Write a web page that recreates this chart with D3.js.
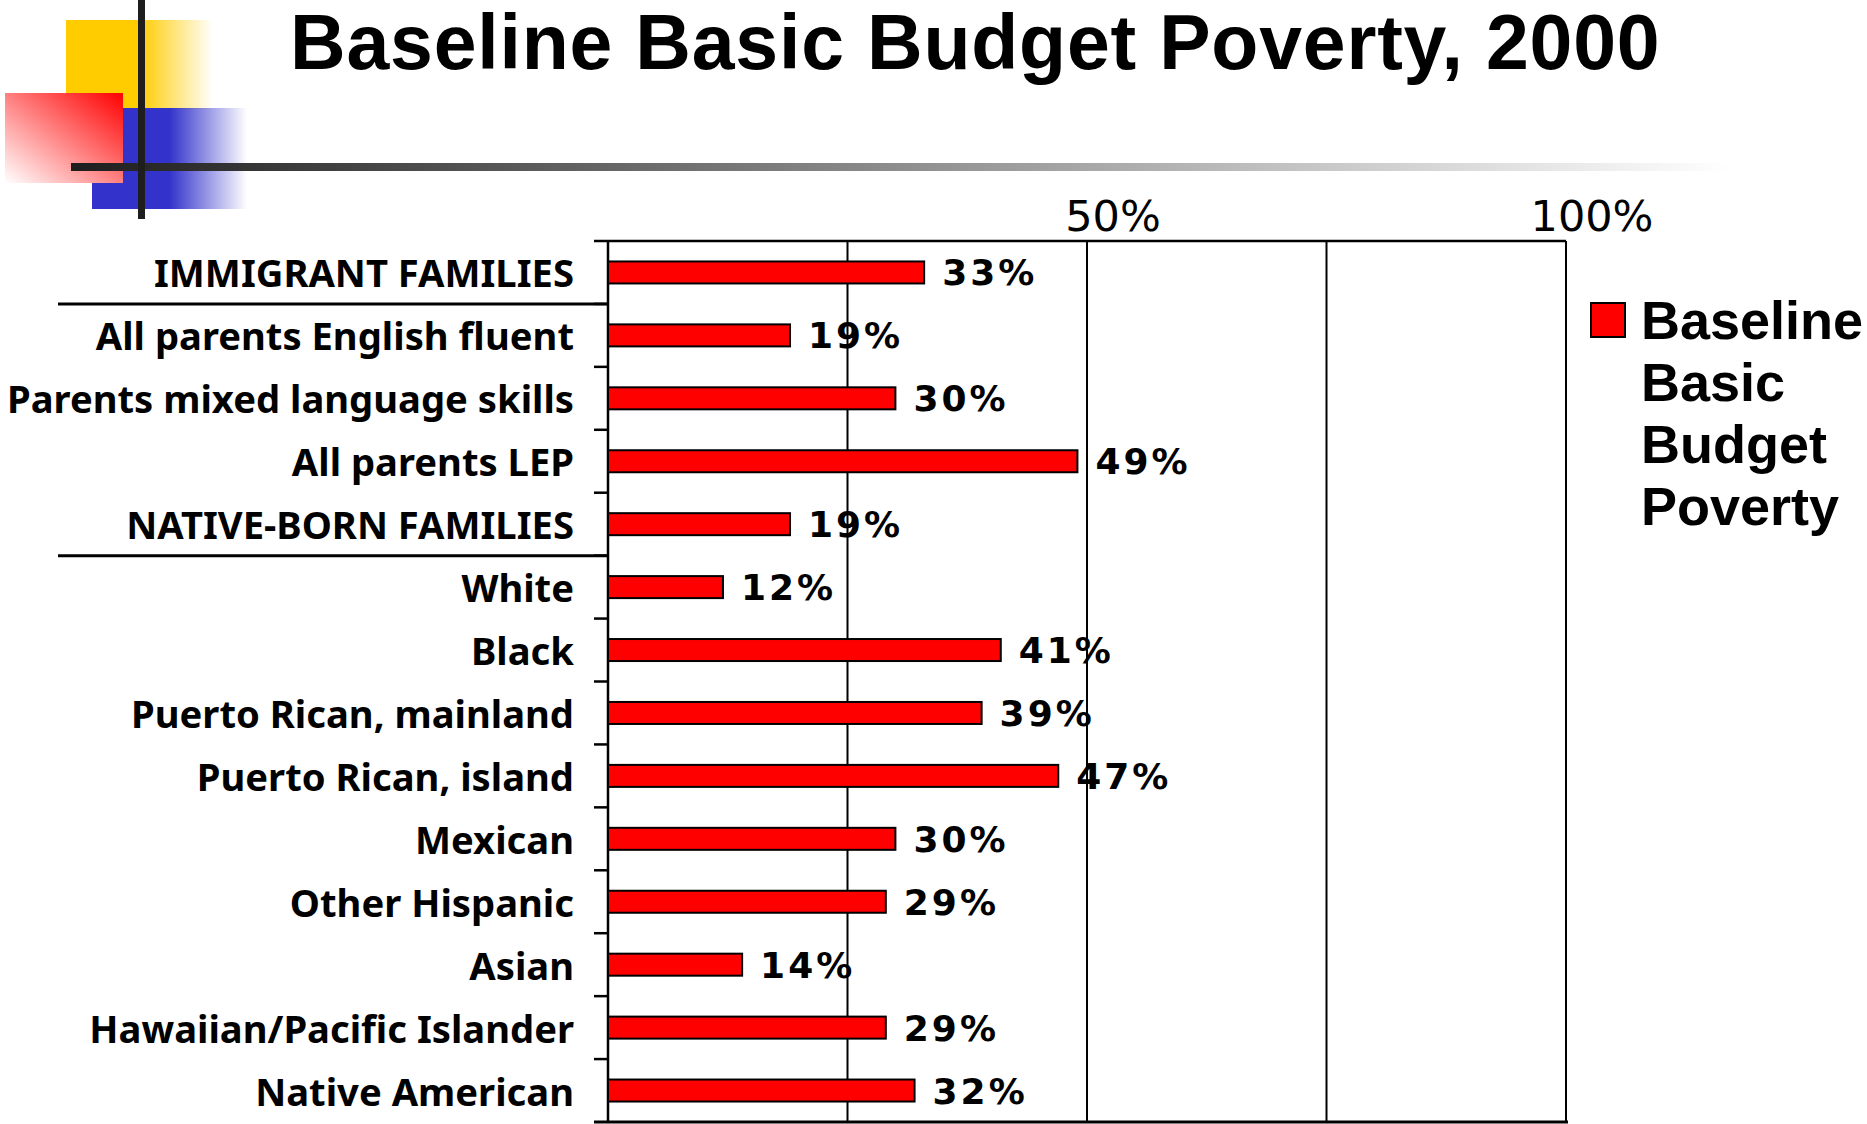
<!DOCTYPE html>
<html>
<head>
<meta charset="utf-8">
<script src="https://cdn.jsdelivr.net/npm/d3@7"></script>
<style>
  html, body { margin: 0; padding: 0; background: #fff; }
  svg { display: block; }
</style>
</head>
<body>
<svg id="chart" width="1867" height="1124"></svg>
<script>
// Basic budget poverty rates, 2000, by family group
const categories = [
  "IMMIGRANT FAMILIES",
  "All parents English fluent",
  "Parents mixed language skills",
  "All parents LEP",
  "NATIVE-BORN FAMILIES",
  "White",
  "Black",
  "Puerto Rican, mainland",
  "Puerto Rican, island",
  "Mexican",
  "Other Hispanic",
  "Asian",
  "Hawaiian/Pacific Islander",
  "Native American"
];
const values = [33, 19, 30, 49, 19, 12, 41, 39, 47, 30, 29, 14, 29, 32];
const groupHeaders = ["IMMIGRANT FAMILIES", "NATIVE-BORN FAMILIES"];
const gridValues = [25, 50, 75, 100];
const tickLabels = [50, 100];
const seriesName = ["Baseline", "Basic", "Budget", "Poverty"];
const title = "Baseline Basic Budget Poverty, 2000";

const svg = d3.select("#chart");
const defs = svg.append("defs");

// ---- corner ornament ----
const gY = defs.append("linearGradient").attr("id", "gYellow");
gY.append("stop").attr("offset", "0").attr("stop-color", "#FFCC00");
gY.append("stop").attr("offset", "0.5").attr("stop-color", "#FFCC00");
gY.append("stop").attr("offset", "1").attr("stop-color", "#FFCC00").attr("stop-opacity", 0);

const gB = defs.append("linearGradient").attr("id", "gBlue");
gB.append("stop").attr("offset", "0").attr("stop-color", "#3333CC");
gB.append("stop").attr("offset", "0.5").attr("stop-color", "#3333CC");
gB.append("stop").attr("offset", "1").attr("stop-color", "#3333CC").attr("stop-opacity", 0);

const gR = defs.append("linearGradient").attr("id", "gRed")
  .attr("x1", "1").attr("y1", "0").attr("x2", "0").attr("y2", "1");
gR.append("stop").attr("offset", "0").attr("stop-color", "#FF0000");
gR.append("stop").attr("offset", "1").attr("stop-color", "#FFFFFF");

const gL = defs.append("linearGradient").attr("id", "gLine")
  .attr("gradientUnits", "userSpaceOnUse")
  .attr("x1", 71).attr("y1", 0).attr("x2", 1730).attr("y2", 0);
gL.append("stop").attr("offset", "0").attr("stop-color", "#1e1e1e");
gL.append("stop").attr("offset", "0.25").attr("stop-color", "#555555");
gL.append("stop").attr("offset", "1").attr("stop-color", "#ffffff");

const orn = svg.append("g");
orn.append("rect").attr("x", 66).attr("y", 20).attr("width", 147).attr("height", 89).attr("fill", "url(#gYellow)");
orn.append("rect").attr("x", 92).attr("y", 108).attr("width", 155).attr("height", 101).attr("fill", "url(#gBlue)");
orn.append("rect").attr("x", 5).attr("y", 93).attr("width", 118).attr("height", 90).attr("fill", "url(#gRed)");
orn.append("rect").attr("x", 71).attr("y", 163).attr("width", 1659).attr("height", 8).attr("fill", "url(#gLine)");
orn.append("rect").attr("x", 138).attr("y", 0).attr("width", 7).attr("height", 219).attr("fill", "#1e1e1e");

// ---- title ----
svg.append("text")
  .attr("x", 290).attr("y", 69)
  .attr("font-family", "'Liberation Sans', Arial, sans-serif")
  .attr("font-weight", "bold")
  .attr("font-size", 77)
  .attr("letter-spacing", 0.8)
  .attr("fill", "#000")
  .text(title);

// ---- scales ----
const x = d3.scaleLinear().domain([0, 100]).range([608, 1566]);
const y = d3.scaleBand().domain(categories).range([241, 1122]).paddingInner(0).paddingOuter(0);
const barH = 22;

const plot = svg.append("g");

// vertical gridlines
plot.selectAll("line.grid").data(gridValues).enter().append("line")
  .attr("class", "grid")
  .attr("x1", d => x(d)).attr("x2", d => x(d))
  .attr("y1", y.range()[0]).attr("y2", y.range()[1])
  .attr("stroke", "#000").attr("stroke-width", 2);

// top frame line with a short lead-in tick
plot.append("line")
  .attr("x1", x(0) - 14).attr("x2", x(100))
  .attr("y1", y.range()[0]).attr("y2", y.range()[0])
  .attr("stroke", "#000").attr("stroke-width", 2.5);

// bottom axis line
plot.append("line")
  .attr("x1", x(0) - 14).attr("x2", x(100) + 2)
  .attr("y1", y.range()[1]).attr("y2", y.range()[1])
  .attr("stroke", "#000").attr("stroke-width", 3);

// left axis line
plot.append("line")
  .attr("x1", x(0)).attr("x2", x(0))
  .attr("y1", y.range()[0]).attr("y2", y.range()[1])
  .attr("stroke", "#000").attr("stroke-width", 2.5);

// category boundary ticks
const boundaries = categories.slice(1).map(c => y(c));
plot.selectAll("line.tick").data(boundaries).enter().append("line")
  .attr("class", "tick")
  .attr("x1", x(0) - 14).attr("x2", x(0))
  .attr("y1", d => d).attr("y2", d => d)
  .attr("stroke", "#000").attr("stroke-width", 2.5);

// rules under the group headers
plot.selectAll("line.group").data(groupHeaders).enter().append("line")
  .attr("class", "group")
  .attr("x1", 58).attr("x2", x(0))
  .attr("y1", d => y(d) + y.bandwidth()).attr("y2", d => y(d) + y.bandwidth())
  .attr("stroke", "#000").attr("stroke-width", 3);

// top axis labels
plot.selectAll("text.xlab").data(tickLabels).enter().append("text")
  .attr("class", "xlab")
  .attr("x", d => x(d) + 26).attr("y", 231)
  .attr("text-anchor", "middle")
  .attr("font-family", "'DejaVu Sans', Verdana, sans-serif")
  .attr("font-size", 43)
  .attr("fill", "#000")
  .text(d => d + "%");

// bars
const rows = categories.map((c, i) => ({ cat: c, val: values[i] }));
plot.selectAll("rect.bar").data(rows).enter().append("rect")
  .attr("class", "bar")
  .attr("x", x(0))
  .attr("y", d => y(d.cat) + y.bandwidth() / 2 - barH / 2)
  .attr("width", d => x(d.val) - x(0))
  .attr("height", barH)
  .attr("fill", "#FF0000")
  .attr("stroke", "#000").attr("stroke-width", 2);

// value labels
plot.selectAll("text.val").data(rows).enter().append("text")
  .attr("class", "val")
  .attr("x", d => x(d.val) + 18)
  .attr("y", d => y(d.cat) + y.bandwidth() / 2 + 13)
  .attr("font-family", "'DejaVu Sans', Verdana, sans-serif")
  .attr("font-weight", "bold")
  .attr("font-size", 36)
  .attr("letter-spacing", 3)
  .attr("fill", "#000")
  .text(d => d.val + "%");

// category labels
plot.selectAll("text.cat").data(rows).enter().append("text")
  .attr("class", "cat")
  .attr("x", 574)
  .attr("y", d => y(d.cat) + y.bandwidth() / 2 + 15)
  .attr("text-anchor", "end")
  .attr("font-family", "'Noto Sans', sans-serif")
  .attr("font-weight", "bold")
  .attr("font-size", 38.2)
  .attr("fill", "#000")
  .text(d => d.cat);

// legend
const legend = svg.append("g");
legend.append("rect")
  .attr("x", 1591).attr("y", 303).attr("width", 34).attr("height", 34)
  .attr("fill", "#FF0000").attr("stroke", "#000").attr("stroke-width", 2);
legend.append("text")
  .attr("font-family", "'Liberation Sans', Arial, sans-serif")
  .attr("font-weight", "bold")
  .attr("font-size", 54)
  .attr("fill", "#000")
  .selectAll("tspan").data(seriesName).enter().append("tspan")
  .attr("x", 1641)
  .attr("y", (d, i) => 339 + i * 62)
  .text(d => d);
</script>
</body>
</html>
